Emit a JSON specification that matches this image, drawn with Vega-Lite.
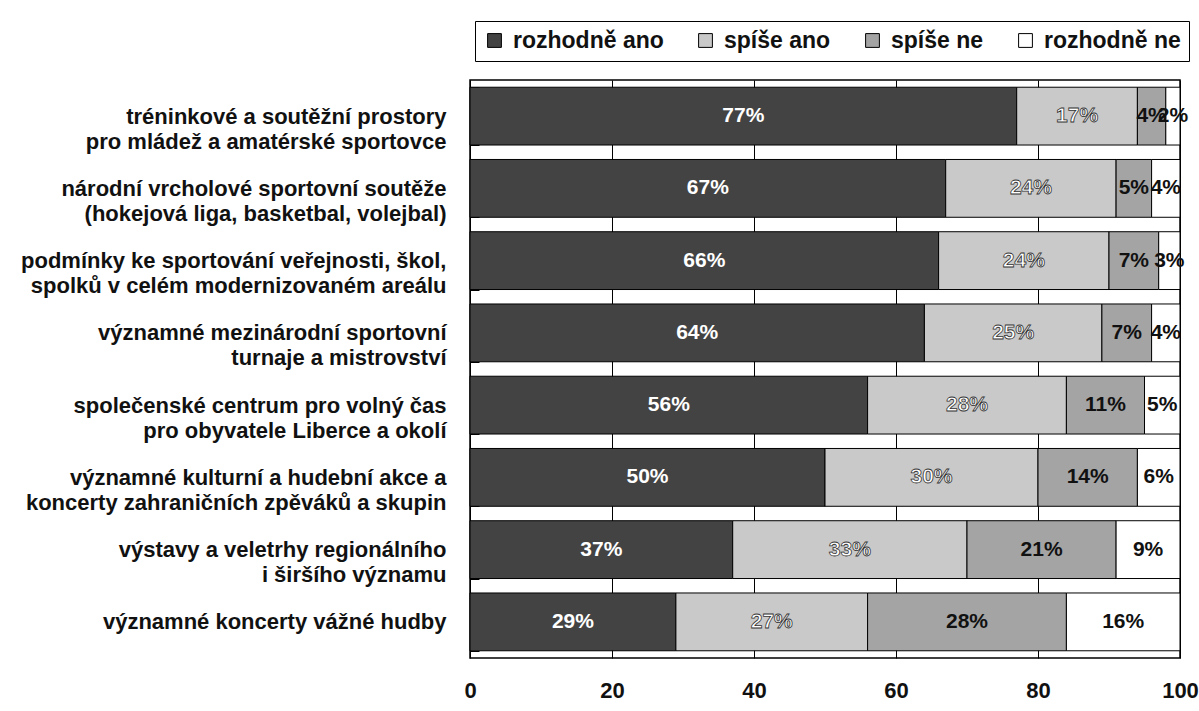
{
  "$schema": "https://vega.github.io/schema/vega-lite/v6.json",
  "width": 710,
  "height": 578,
  "autosize": {"type": "none"},
  "padding": {"left": 470, "top": 80, "right": 19, "bottom": 53},
  "background": "white",
  "config": {
    "font": "Liberation Sans",
    "view": {"stroke": "black", "strokeWidth": 1.5}
  },
  "data": {
    "values": [
      {"item": "tréninkové a soutěžní prostory\npro mládež a amatérské sportovce", "answer": "rozhodně ano", "k": 1, "value": 77},
      {"item": "tréninkové a soutěžní prostory\npro mládež a amatérské sportovce", "answer": "spíše ano", "k": 2, "value": 17},
      {"item": "tréninkové a soutěžní prostory\npro mládež a amatérské sportovce", "answer": "spíše ne", "k": 3, "value": 4},
      {"item": "tréninkové a soutěžní prostory\npro mládež a amatérské sportovce", "answer": "rozhodně ne", "k": 4, "value": 2},
      {"item": "národní vrcholové sportovní soutěže\n(hokejová liga, basketbal, volejbal)", "answer": "rozhodně ano", "k": 1, "value": 67},
      {"item": "národní vrcholové sportovní soutěže\n(hokejová liga, basketbal, volejbal)", "answer": "spíše ano", "k": 2, "value": 24},
      {"item": "národní vrcholové sportovní soutěže\n(hokejová liga, basketbal, volejbal)", "answer": "spíše ne", "k": 3, "value": 5},
      {"item": "národní vrcholové sportovní soutěže\n(hokejová liga, basketbal, volejbal)", "answer": "rozhodně ne", "k": 4, "value": 4},
      {"item": "podmínky ke sportování veřejnosti, škol,\nspolků v celém modernizovaném areálu", "answer": "rozhodně ano", "k": 1, "value": 66},
      {"item": "podmínky ke sportování veřejnosti, škol,\nspolků v celém modernizovaném areálu", "answer": "spíše ano", "k": 2, "value": 24},
      {"item": "podmínky ke sportování veřejnosti, škol,\nspolků v celém modernizovaném areálu", "answer": "spíše ne", "k": 3, "value": 7},
      {"item": "podmínky ke sportování veřejnosti, škol,\nspolků v celém modernizovaném areálu", "answer": "rozhodně ne", "k": 4, "value": 3},
      {"item": "významné mezinárodní sportovní\nturnaje a mistrovství", "answer": "rozhodně ano", "k": 1, "value": 64},
      {"item": "významné mezinárodní sportovní\nturnaje a mistrovství", "answer": "spíše ano", "k": 2, "value": 25},
      {"item": "významné mezinárodní sportovní\nturnaje a mistrovství", "answer": "spíše ne", "k": 3, "value": 7},
      {"item": "významné mezinárodní sportovní\nturnaje a mistrovství", "answer": "rozhodně ne", "k": 4, "value": 4},
      {"item": "společenské centrum pro volný čas\npro obyvatele Liberce a okolí", "answer": "rozhodně ano", "k": 1, "value": 56},
      {"item": "společenské centrum pro volný čas\npro obyvatele Liberce a okolí", "answer": "spíše ano", "k": 2, "value": 28},
      {"item": "společenské centrum pro volný čas\npro obyvatele Liberce a okolí", "answer": "spíše ne", "k": 3, "value": 11},
      {"item": "společenské centrum pro volný čas\npro obyvatele Liberce a okolí", "answer": "rozhodně ne", "k": 4, "value": 5},
      {"item": "významné kulturní a hudební akce a\nkoncerty zahraničních zpěváků a skupin", "answer": "rozhodně ano", "k": 1, "value": 50},
      {"item": "významné kulturní a hudební akce a\nkoncerty zahraničních zpěváků a skupin", "answer": "spíše ano", "k": 2, "value": 30},
      {"item": "významné kulturní a hudební akce a\nkoncerty zahraničních zpěváků a skupin", "answer": "spíše ne", "k": 3, "value": 14},
      {"item": "významné kulturní a hudební akce a\nkoncerty zahraničních zpěváků a skupin", "answer": "rozhodně ne", "k": 4, "value": 6},
      {"item": "výstavy a veletrhy regionálního\ni širšího významu", "answer": "rozhodně ano", "k": 1, "value": 37},
      {"item": "výstavy a veletrhy regionálního\ni širšího významu", "answer": "spíše ano", "k": 2, "value": 33},
      {"item": "výstavy a veletrhy regionálního\ni širšího významu", "answer": "spíše ne", "k": 3, "value": 21},
      {"item": "výstavy a veletrhy regionálního\ni širšího významu", "answer": "rozhodně ne", "k": 4, "value": 9},
      {"item": "významné koncerty vážné hudby", "answer": "rozhodně ano", "k": 1, "value": 29},
      {"item": "významné koncerty vážné hudby", "answer": "spíše ano", "k": 2, "value": 27},
      {"item": "významné koncerty vážné hudby", "answer": "spíše ne", "k": 3, "value": 28},
      {"item": "významné koncerty vážné hudby", "answer": "rozhodně ne", "k": 4, "value": 16}
    ]
  },
  "transform": [
    {"stack": "value", "groupby": ["item"], "sort": [{"field": "k", "order": "ascending"}], "as": ["v0", "v1"]}
  ],
  "encoding": {
    "y": {
      "field": "item",
      "type": "nominal",
      "sort": null,
      "title": null,
      "scale": {"paddingInner": 0.2, "paddingOuter": 0.1},
      "axis": {
        "domain": false,
        "labelExpr": "split(datum.label, '\\n')",
        "labelFont": "Liberation Sans",
        "labelFontSize": 22,
        "labelFontWeight": "bold",
        "labelColor": "#111111",
        "labelLineHeight": 25,
        "labelPadding": 33,
        "labelLimit": 600,
        "ticks": true,
        "tickBand": "extent",
        "tickSize": -9,
        "tickColor": "black",
        "tickWidth": 1
      }
    }
  },
  "layer": [
    {
      "mark": {"type": "bar", "stroke": "black", "strokeWidth": 1},
      "encoding": {
        "x": {
          "field": "v0",
          "type": "quantitative",
          "scale": {"domain": [0, 100], "nice": false},
          "title": null,
          "axis": {
            "values": [0, 20, 40, 60, 80, 100],
            "domain": false,
            "ticks": false,
            "grid": true,
            "gridColor": "black",
            "gridWidth": 1,
            "gridOpacity": 1,
            "labelFont": "Liberation Sans",
            "labelFontSize": 22,
            "labelFontWeight": "bold",
            "labelColor": "#111111",
            "labelPadding": 22,
            "labelFlush": false
          }
        },
        "x2": {"field": "v1"},
        "color": {
          "field": "answer",
          "type": "nominal",
          "scale": {
            "domain": ["rozhodně ano", "spíše ano", "spíše ne", "rozhodně ne"],
            "range": ["#434343", "#c9c9c9", "#a4a4a4", "#ffffff"]
          },
          "legend": {
            "title": null,
            "orient": "none",
            "direction": "horizontal",
            "columns": 4,
            "gridAlign": "none",
            "legendX": 5,
            "legendY": -59,
            "padding": 8,
            "strokeColor": "black",
            "symbolType": "square",
            "symbolSize": 190,
            "symbolStrokeColor": "black",
            "symbolStrokeWidth": 1,
            "symbolOpacity": 1,
            "columnPadding": 30,
            "labelFont": "Liberation Sans",
            "labelFontSize": 23,
            "labelFontWeight": "bold",
            "labelColor": "#111111",
            "labelOffset": 7,
            "labelLimit": 300
          }
        },
        "order": {"field": "k"}
      }
    },
    {
      "mark": {
        "type": "text",
        "font": "Liberation Sans",
        "fontSize": 21,
        "fontWeight": "bold",
        "align": "center",
        "baseline": "middle",
        "strokeWidth": 0.8,
        "x": {"expr": "scale('x', (datum.v0 + datum.v1) / 2)"},
        "text": {"expr": "datum.value + '%'"}
      },
      "encoding": {
        "color": {
          "condition": {"test": "datum.k <= 2", "value": "white"},
          "value": "#111111"
        },
        "stroke": {
          "condition": {"test": "datum.k == 2", "value": "#333333"},
          "value": "transparent"
        }
      }
    }
  ]
}
